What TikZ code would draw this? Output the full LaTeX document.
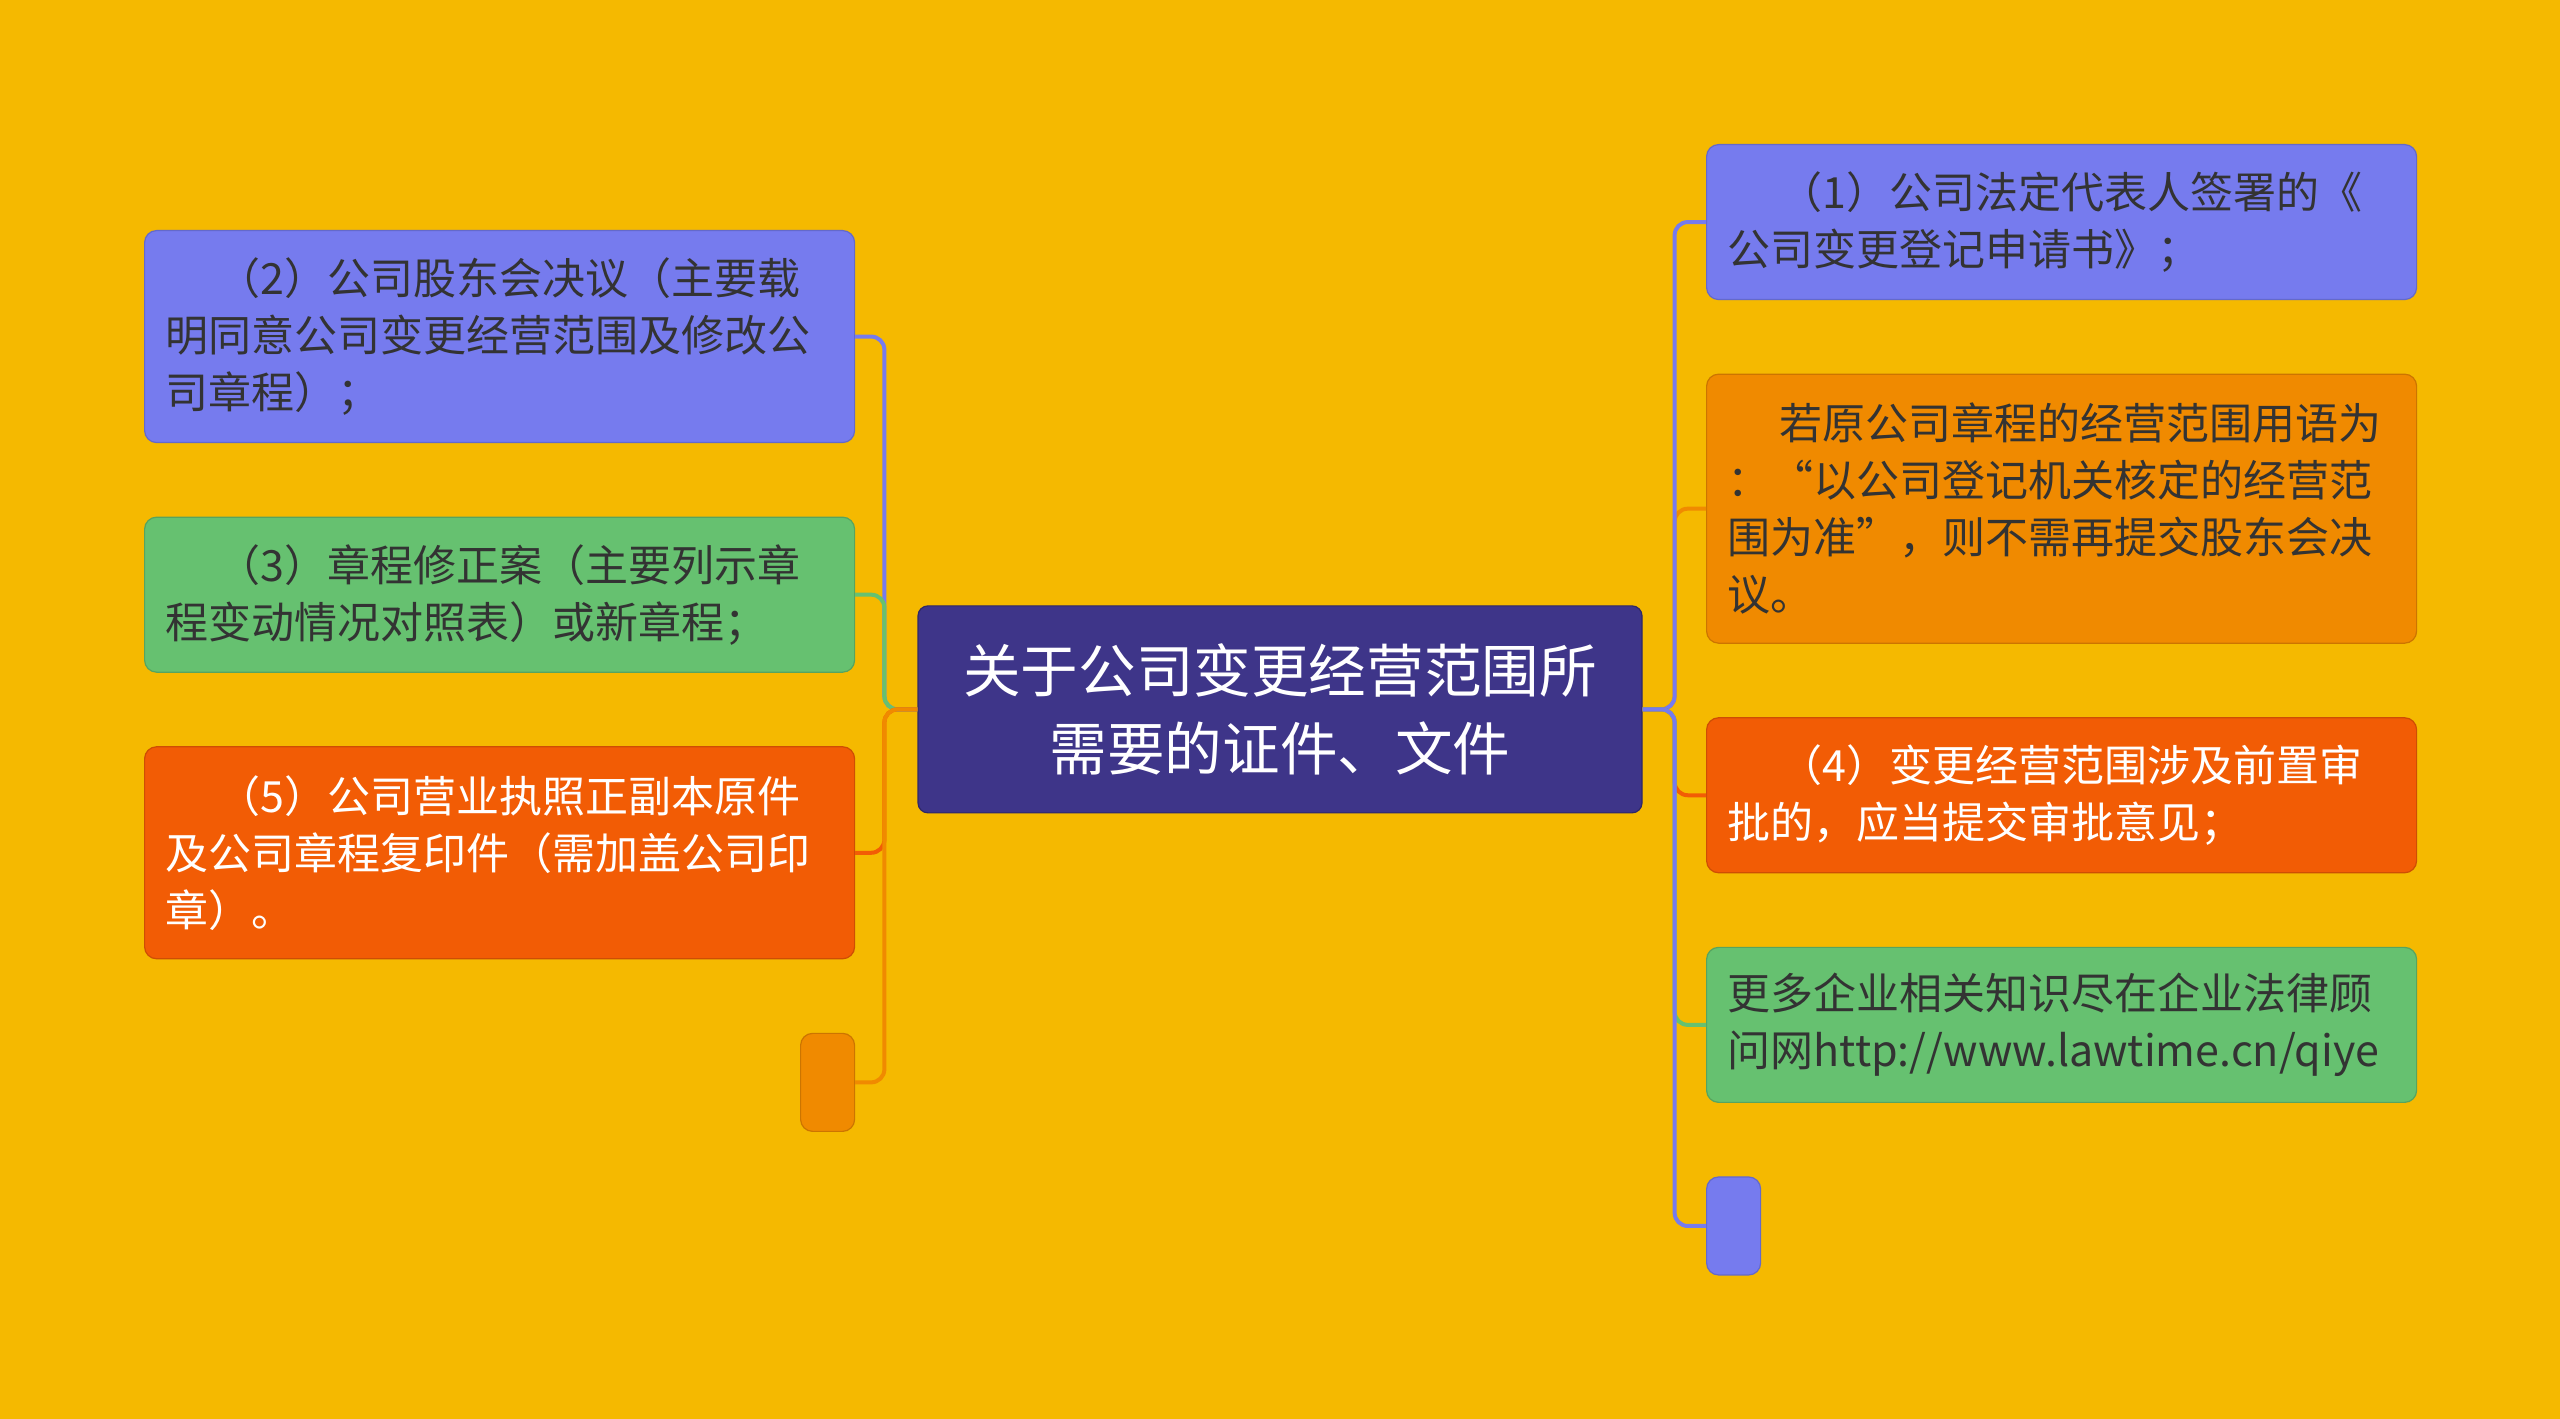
\documentclass[tikz,border=0pt]{standalone}
\usepackage{fontspec}
\setmainfont{Noto Sans CJK SC}
\usetikzlibrary{positioning}

\definecolor{bgyellow}{RGB}{245,185,0}
\definecolor{boxblue}{RGB}{118,123,238}
\definecolor{boxgreen}{RGB}{102,193,112}
\definecolor{boxorange}{RGB}{240,138,0}
\definecolor{boxred}{RGB}{242,92,5}
\definecolor{rootblue}{RGB}{62,53,137}
\definecolor{darktext}{RGB}{51,51,51}

\tikzset{
  leaf/.style={fill=#1, draw=#1!85!black, line width=0.3pt, rounded corners=3pt,
    text width=167pt, inner xsep=5.25pt, inner ysep=0pt, align=left,
    font=\fontsize{10.75pt}{14.25pt}\selectfont, text=darktext},
  stub/.style={fill=#1, draw=#1!85!black, line width=0.3pt, rounded corners=3pt,
    minimum width=13.5pt, minimum height=24.5pt, inner sep=0pt},
  root/.style={fill=rootblue, draw=rootblue!75!black, line width=0.3pt, rounded corners=2.5pt,
    minimum width=181pt, minimum height=51.75pt, align=center, text=white,
    font=\fontsize{14.4pt}{19.5pt}\selectfont},
  link/.style={draw=#1, line width=1pt, rounded corners=3.3pt}
}

\begin{document}
\begin{tikzpicture}[node distance=18.35pt]
   \fill[bgyellow] (0,0) rectangle (640pt,354.75pt);
   \useasboundingbox (0,0) rectangle (640pt,354.75pt);
   % Drawing goes here
   \node[root] (root) at (320pt,177.4pt) {关于公司变更经营范围所\\需要的证件、文件};

   % left branch
   \node[leaf=boxblue, minimum height=53pt, anchor=north west] (a2) at (36pt,297.25pt)
        {\hspace*{1.2em}（2）公司股东会决议（主要载\\明同意公司变更经营范围及修改公\\司章程）；};
   \node[leaf=boxgreen, minimum height=38.75pt, below=of a2] (a3)
        {\hspace*{1.2em}（3）章程修正案（主要列示章\\程变动情况对照表）或新章程；};
   \node[leaf=boxred, minimum height=53pt, text=white, below=of a3] (a5)
        {\hspace*{1.2em}（5）公司营业执照正副本原件\\及公司章程复印件（需加盖公司印\\章）。};
   \node[stub=boxorange, below=of a5.south east, anchor=north east] (ax) {};

   % right branch
   \node[leaf=boxblue, minimum height=38.75pt, anchor=north west] (b1) at (426.5pt,318.75pt)
        {\hspace*{1.2em}（1）公司法定代表人签署的《\\公司变更登记申请书》；};
   \node[leaf=boxorange, minimum height=67.25pt, below=of b1] (b0)
        {\hspace*{1.2em}若原公司章程的经营范围用语为\\：“以公司登记机关核定的经营范\\围为准”，则不需再提交股东会决\\议。};
   \node[leaf=boxred, minimum height=38.75pt, text=white, below=of b0] (b4)
        {\hspace*{1.2em}（4）变更经营范围涉及前置审\\批的，应当提交审批意见；};
   \node[leaf=boxgreen, minimum height=38.75pt, below=of b4] (b6)
        {更多企业相关知识尽在企业法律顾\\问网http://www.lawtime.cn/qiye};
   \node[stub=boxblue, below=of b6.south west, anchor=north west] (bx) {};

   % Connect the root with its children
   \draw[link=boxblue]   (root.west) -- ++(-8.25pt,0) |- (a2.east);
   \draw[link=boxgreen]  (root.west) -- ++(-8.25pt,0) |- (a3.east);
   \draw[link=boxred]    (root.west) -- ++(-8.25pt,0) |- (a5.east);
   \draw[link=boxorange] (root.west) -- ++(-8.25pt,0) |- (ax.east);

   \draw[link=boxorange] (root.east) -- ++(8pt,0) |- (b0.west);
   \draw[link=boxblue]   (root.east) -- ++(8pt,0) |- (b1.west);
   \draw[link=boxred]    (root.east) -- ++(8pt,0) |- (b4.west);
   \draw[link=boxgreen]  (root.east) -- ++(8pt,0) |- (b6.west);
   \draw[link=boxblue]   (root.east) -- ++(8pt,0) |- (bx.west);
\end{tikzpicture}
\end{document}
